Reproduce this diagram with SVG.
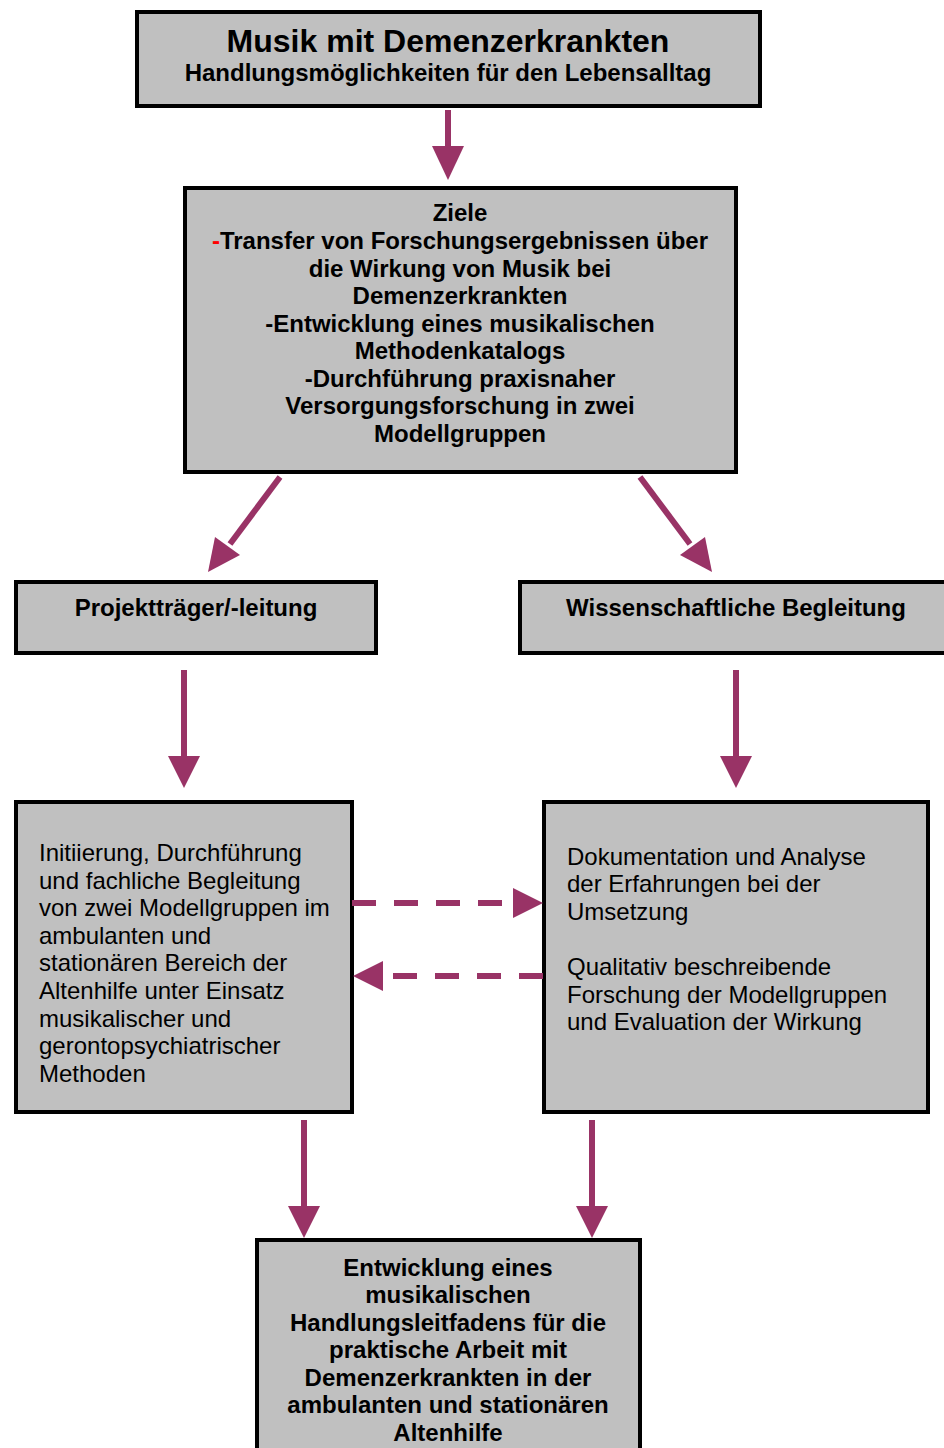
<svg xmlns="http://www.w3.org/2000/svg" width="944" height="1448" viewBox="0 0 944 1448">
<style>
.box{fill:#c0c0c0;stroke:#000;stroke-width:4}
.b{font-family:"Liberation Sans",Arial,sans-serif;font-weight:bold;font-size:24px;fill:#000;text-anchor:middle}
.t{font-size:32px}
.r{font-family:"Liberation Sans",Arial,sans-serif;font-size:24px;fill:#000}
.c{stroke:#993366;stroke-width:6;fill:none}
.d{stroke:#993366;stroke-width:6;fill:none;stroke-dasharray:24 18}
.h{fill:#993366}
</style>
<rect width="944" height="1448" fill="#fff"/>
<g id="n-title">
<rect class="box" x="137" y="12" width="623" height="94"/>
<text class="b t" x="448" y="52">Musik mit Demenzerkrankten</text>
<text class="b" x="448" y="81">Handlungsmöglichkeiten für den Lebensalltag</text>
</g>
<g id="n-ziele">
<rect class="box" x="185" y="188" width="551" height="284"/>
<text class="b" x="460" y="221">Ziele</text>
<text class="b" x="460" y="249"><tspan fill="#ff0000">-</tspan>Transfer von Forschungsergebnissen über</text>
<text class="b" x="460" y="277">die Wirkung von Musik bei</text>
<text class="b" x="460" y="304">Demenzerkrankten</text>
<text class="b" x="460" y="332">-Entwicklung eines musikalischen</text>
<text class="b" x="460" y="359">Methodenkatalogs</text>
<text class="b" x="460" y="387">-Durchführung praxisnaher</text>
<text class="b" x="460" y="414">Versorgungsforschung in zwei</text>
<text class="b" x="460" y="442">Modellgruppen</text>
</g>
<g id="n-traeger">
<rect class="box" x="16" y="582" width="360" height="71"/>
<text class="b" x="196" y="616">Projektträger/-leitung</text>
</g>
<g id="n-wiss">
<rect class="box" x="520" y="582" width="430" height="71"/>
<text class="b" x="736" y="616">Wissenschaftliche Begleitung</text>
</g>
<g id="n-initiierung">
<rect class="box" x="16" y="802" width="336" height="310"/>
<text class="r" x="39" y="861">Initiierung, Durchführung</text>
<text class="r" x="39" y="889">und fachliche Begleitung</text>
<text class="r" x="39" y="916">von zwei Modellgruppen im</text>
<text class="r" x="39" y="944">ambulanten und</text>
<text class="r" x="39" y="971">stationären Bereich der</text>
<text class="r" x="39" y="999">Altenhilfe unter Einsatz</text>
<text class="r" x="39" y="1027">musikalischer und</text>
<text class="r" x="39" y="1054">gerontopsychiatrischer</text>
<text class="r" x="39" y="1082">Methoden</text>
</g>
<g id="n-doku">
<rect class="box" x="544" y="802" width="384" height="310"/>
<text class="r" x="567" y="865">Dokumentation und Analyse</text>
<text class="r" x="567" y="892">der Erfahrungen bei der</text>
<text class="r" x="567" y="920">Umsetzung</text>
<text class="r" x="567" y="975">Qualitativ beschreibende</text>
<text class="r" x="567" y="1003">Forschung der Modellgruppen</text>
<text class="r" x="567" y="1030">und Evaluation der Wirkung</text>
</g>
<g id="n-leitfaden">
<rect class="box" x="257" y="1240" width="383" height="220"/>
<text class="b" x="448" y="1276">Entwicklung eines</text>
<text class="b" x="448" y="1303">musikalischen</text>
<text class="b" x="448" y="1331">Handlungsleitfadens für die</text>
<text class="b" x="448" y="1358">praktische Arbeit mit</text>
<text class="b" x="448" y="1386">Demenzerkrankten in der</text>
<text class="b" x="448" y="1413">ambulanten und stationären</text>
<text class="b" x="448" y="1441">Altenhilfe</text>
</g>
<g id="connectors">
<line class="c" x1="448" y1="110" x2="448" y2="150"/>
<polygon class="h" points="432,146 464,146 448,180"/>
<line class="c" x1="280" y1="477" x2="230" y2="544"/>
<polygon class="h" points="208,572 215,537 240,555"/>
<line class="c" x1="640" y1="477" x2="690" y2="544"/>
<polygon class="h" points="712,572 705,537 680,555"/>
<line class="c" x1="184" y1="670" x2="184" y2="760"/>
<polygon class="h" points="168,756 200,756 184,788"/>
<line class="c" x1="736" y1="670" x2="736" y2="760"/>
<polygon class="h" points="720,756 752,756 736,788"/>
<line class="d" x1="352" y1="903" x2="515" y2="903"/>
<polygon class="h" points="513,888 543,903 513,918"/>
<line class="d" x1="543" y1="976" x2="386" y2="976"/>
<polygon class="h" points="383,961 353,976 383,991"/>
<line class="c" x1="304" y1="1120" x2="304" y2="1210"/>
<polygon class="h" points="288,1206 320,1206 304,1238"/>
<line class="c" x1="592" y1="1120" x2="592" y2="1210"/>
<polygon class="h" points="576,1206 608,1206 592,1238"/>
</g>
</svg>
